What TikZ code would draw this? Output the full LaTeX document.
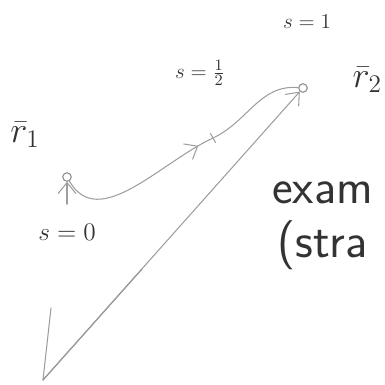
\documentclass[tikz,border=0pt]{standalone}
\usepackage{tikz}
\usetikzlibrary{positioning,arrows.meta,decorations.markings}
\tikzset{%
  pencil/.style = {draw=black!38,semithick,line cap=round},
  vecarrow/.style = {pencil,-{Straight Barb[length=2.2mm,width=3.6mm]}},
  pt/.style = {circle,draw=black!45,semithick,inner sep=0pt,
        minimum size=0.17cm},
  lbl/.style = {text=black!80,inner sep=1pt},
  words/.style = {text=black!80,font=\sffamily\fontsize{28}{32}\selectfont,
        inner sep=0pt,anchor=base west}
}

\begin{document}
\begin{tikzpicture}
  \useasboundingbox (0,0) rectangle (7.7,7.7);
  \clip (0,0) rectangle (7.7,7.7);

  \coordinate (O) at (0.86,0.1);
  \coordinate (axis) at (1.02,1.54);
  \node[pt] (r1) at (1.34,4.16) {};
  \node[pt] (r2) at (6.06,5.94) {};
  \coordinate (half) at (4.26,4.94);
  \coordinate (dark) at (2.84,2.32);

  \node[lbl,font=\fontsize{14}{16}\selectfont] (s0) at (1.34,3.06) {$s=0$};
  \node[lbl,font=\fontsize{13}{15}\selectfont] (shalf) at (4.0,6.24) {$s=\frac{1}{2}$};
  \node[lbl,font=\fontsize{13}{15}\selectfont] (s1) at (6.14,7.26) {$s=1$};
  \node[lbl,font=\fontsize{22}{24}\selectfont] (r1lbl) at (0.5,5.0) {$\bar r_1$};
  \node[lbl,font=\fontsize{20}{22}\selectfont,anchor=east] (r2lbl) at (7.68,6.1) {$\bar r_2$};

  \node[words] (ex) at (5.44,3.64) {exam};
  \node[words] (st) at (5.54,2.54) {(stra};

  % position vector and axis
  \draw[pencil] (O) -- (axis);
  \draw[pencil,draw=black!55] (O) -- (dark);
  \draw[vecarrow] (O) -- (r2);
  \draw[vecarrow,shorten <=10pt] (s0) -- (r1);

  % the path
  \draw[pencil,postaction={decorate},decoration={markings,
        mark=at position 0.9 with {\arrow{Straight Barb[length=2.2mm,width=3.6mm]}}}]
        (r1) to[out=-60,in=205] (half);
  \draw[pencil] (half) to[out=25,in=175] (r2);
  \draw[pencil] ([shift={(-0.05,0.09)}]half) -- ([shift={(0.05,-0.09)}]half);
\end{tikzpicture}
\end{document}
